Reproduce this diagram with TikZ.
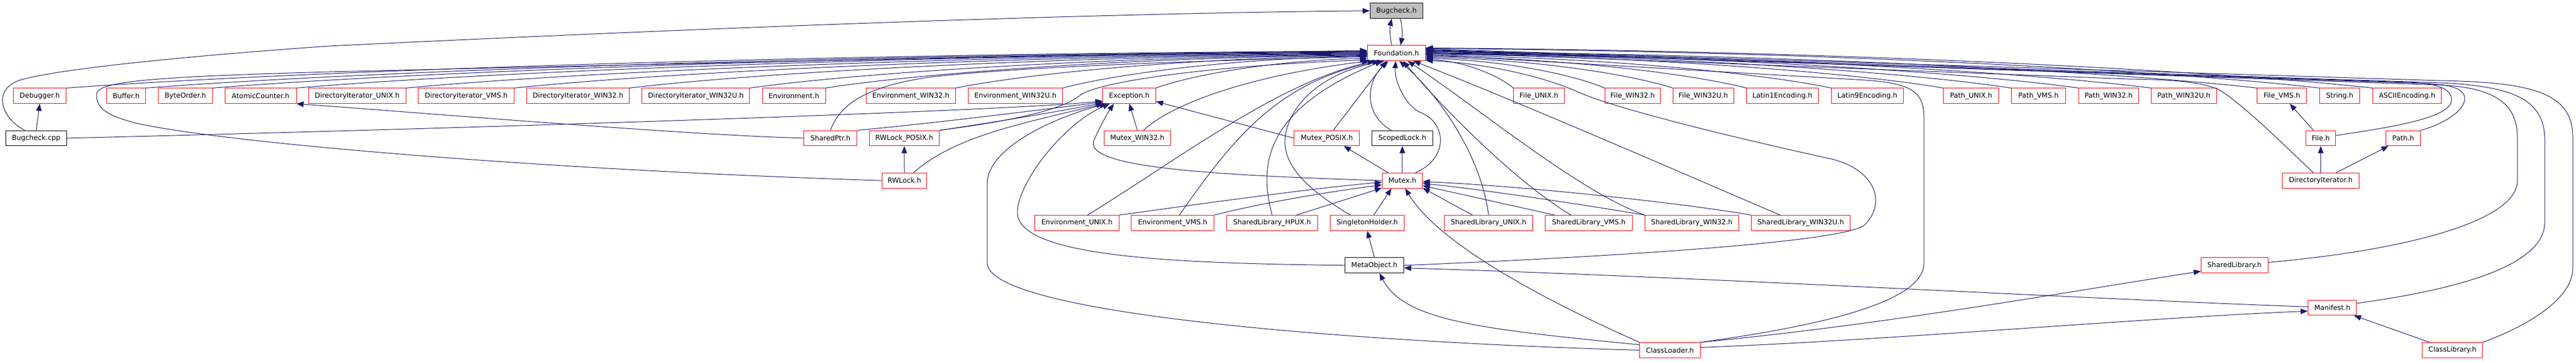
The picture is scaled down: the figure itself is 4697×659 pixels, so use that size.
\documentclass[tikz,border=0pt]{standalone}
\usepackage{fontspec}
\setmainfont{DejaVu Sans}
\usetikzlibrary{arrows.meta}
\definecolor{edgec}{HTML}{191970}
\definecolor{graybg}{HTML}{BFBFBF}
\begin{document}
\begin{tikzpicture}[x=1pt,y=-1pt,
  nd/.style={draw=red, fill=white, line width=1pt, minimum height=27.7pt, inner sep=0pt, text=black, font=\fontsize{12.6pt}{15pt}\selectfont},
  ndk/.style={nd, draw=black},
  ndg/.style={nd, draw=black, fill=graybg},
  edg/.style={draw=edgec, line width=1pt, -{Triangle[length=13pt,width=10pt]}}]
\fill[white] (0,0) rectangle (4697,659);
\useasboundingbox (0,0) rectangle (4697,659);
% rank 0,1
\node[ndg, minimum width=96.4pt] (BH) at (2546.2,19.7) {Bugcheck.h};
\node[nd, minimum width=105.6pt] (F) at (2546.2,96.8) {Foundation.h};
% rank 2
\node[nd, minimum width=96.8pt] (Dbg) at (72.5,174.8) {Debugger.h};
\node[nd, minimum width=71.2pt] (Buf) at (230.0,174.8) {Buffer.h};
\node[nd, minimum width=98.7pt] (BO) at (338.0,174.8) {ByteOrder.h};
\node[nd, minimum width=129.7pt] (AC) at (475.2,174.8) {AtomicCounter.h};
\node[nd, minimum width=177.5pt] (DIU) at (651.4,174.8) {DirectoryIterator\_UNIX.h};
\node[nd, minimum width=174.9pt] (DIV) at (850.1,174.8) {DirectoryIterator\_VMS.h};
\node[nd, minimum width=186.8pt] (DIW) at (1053.9,174.8) {DirectoryIterator\_WIN32.h};
\node[nd, minimum width=196.3pt] (DIWU) at (1268.8,174.8) {DirectoryIterator\_WIN32U.h};
\node[nd, minimum width=114.8pt] (Env) at (1447.6,174.8) {Environment.h};
\node[nd, minimum width=163.0pt] (EnvW) at (1660.8,174.8) {Environment\_WIN32.h};
\node[nd, minimum width=171.8pt] (EnvWU) at (1851.5,174.8) {Environment\_WIN32U.h};
\node[nd, minimum width=96.4pt] (Exc) at (2059.1,174.8) {Exception.h};
\node[nd, minimum width=92.7pt] (FU) at (2806.1,174.8) {File\_UNIX.h};
\node[nd, minimum width=101.4pt] (FW) at (2976.9,174.8) {File\_WIN32.h};
\node[nd, minimum width=110.6pt] (FWU) at (3105.8,174.8) {File\_WIN32U.h};
\node[nd, minimum width=130.9pt] (L1) at (3250.0,174.8) {Latin1Encoding.h};
\node[nd, minimum width=130.8pt] (L9) at (3404.9,174.8) {Latin9Encoding.h};
\node[nd, minimum width=100.6pt] (PU) at (3594.1,174.8) {Path\_UNIX.h};
\node[nd, minimum width=98.7pt] (PV) at (3716.8,174.8) {Path\_VMS.h};
\node[nd, minimum width=109.1pt] (PW) at (3844.8,174.8) {Path\_WIN32.h};
\node[nd, minimum width=118.7pt] (PWU) at (3982.0,174.8) {Path\_WIN32U.h};
\node[nd, minimum width=90.3pt] (FV) at (4160.7,174.8) {File\_VMS.h};
\node[nd, minimum width=72.6pt] (Str) at (4266.2,174.8) {String.h};
\node[nd, minimum width=125.3pt] (ASCII) at (4388.9,174.8) {ASCIIEncoding.h};
% rank 3
\node[ndk, minimum width=111.4pt] (BC) at (66.0,251.9) {Bugcheck.cpp};
\node[nd, minimum width=97.2pt] (SP) at (1514.2,251.9) {SharedPtr.h};
\node[nd, minimum width=127.0pt] (RWP) at (1648.9,251.9) {RWLock\_POSIX.h};
\node[nd, minimum width=120.6pt] (MW) at (2073.8,251.9) {Mutex\_WIN32.h};
\node[nd, minimum width=118.9pt] (MP) at (2419.4,251.9) {Mutex\_POSIX.h};
\node[ndk, minimum width=111.0pt] (SL) at (2556.9,251.9) {ScopedLock.h};
\node[nd, minimum width=54.8pt] (File) at (4231.5,251.9) {File.h};
\node[nd, minimum width=62.8pt] (Path) at (4382.0,251.9) {Path.h};
% rank 4
\node[nd, minimum width=81.9pt] (RW) at (1649.0,329.2) {RWLock.h};
\node[nd, minimum width=73.4pt] (Mtx) at (2556.9,329.2) {Mutex.h};
\node[nd, minimum width=139.2pt] (DI) at (4231.5,329.2) {DirectoryIterator.h};
% rank 5
\node[nd, minimum width=153.4pt] (EU) at (1963.6,406.5) {Environment\_UNIX.h};
\node[nd, minimum width=150.8pt] (EV) at (2138.3,406.5) {Environment\_VMS.h};
\node[nd, minimum width=166.4pt] (SLH) at (2319.5,406.5) {SharedLibrary\_HPUX.h};
\node[nd, minimum width=135.1pt] (SH) at (2492.9,406.5) {SingletonHolder.h};
\node[nd, minimum width=161.5pt] (SLU) at (2714.2,406.5) {SharedLibrary\_UNIX.h};
\node[nd, minimum width=158.8pt] (SLV) at (2896.9,406.5) {SharedLibrary\_VMS.h};
\node[nd, minimum width=171.0pt] (SLW) at (3084.8,406.5) {SharedLibrary\_WIN32.h};
\node[nd, minimum width=180.2pt] (SLWU) at (3283.4,406.5) {SharedLibrary\_WIN32U.h};
% rank 6,7,8
\node[ndk, minimum width=107.2pt] (MO) at (2506.0,483.8) {MetaObject.h};
\node[nd, minimum width=121.7pt] (SLib) at (4074.2,483.8) {SharedLibrary.h};
\node[nd, minimum width=88.6pt] (Man) at (4252.6,560.9) {Manifest.h};
\node[nd, minimum width=110.9pt] (CLo) at (3044.9,638.4) {ClassLoader.h};
\node[nd, minimum width=109.9pt] (CLib) at (4471.6,638.4) {ClassLibrary.h};

% Bugcheck.h <-> Foundation.h
\draw[edg] (F.121) .. controls (2534,65) and (2534,50) .. (BH.239);
\draw[edg] (BH.-63) .. controls (2557,50) and (2557,65) .. (F.62);
% Bugcheck.cpp
\draw[edg] (BC.145) .. controls (0,215) and (-15,160) .. (40,145) .. controls (100,128) and (300,105) .. (600,84) .. controls (1300,50) and (2000,24) .. (BH.west);
\draw[edg] (BC.north) -- (Dbg.south);
\draw[edg] (BC.east) .. controls (700,238) and (1800,205) .. (Exc.191);
% rank 2 left -> Foundation
\draw[edg] (Dbg.north east) .. controls (501,132.5) and (1402,98.5) .. (F.176);
\draw[edg] (Buf.north east) .. controls (622,132.9) and (1469,99.4) .. (F.177);
\draw[edg] (BO.north east) .. controls (724,133.3) and (1524,100.3) .. (F.178);
\draw[edg] (AC.north east) .. controls (852,133.7) and (1595,101.1) .. (F.179);
\draw[edg] (DIU.north east) .. controls (1020,134) and (1687,101.9) .. (F.180);
\draw[edg] (DIV.north east) .. controls (1186.5,134.4) and (1777,102.8) .. (F.181);
\draw[edg] (DIW.north east) .. controls (1362,134.8) and (1874,103.6) .. (F.182);
\draw[edg] (DIWU.north east) .. controls (1547,135.2) and (1975,104.5) .. (F.183);
\draw[edg] (Env.north east) .. controls (1663,135.6) and (2039,105.3) .. (F.184);
\draw[edg] (EnvW.north east) .. controls (1862,136) and (2148,106.2) .. (F.185);
\draw[edg] (EnvWU.north east) .. controls (2026,136.4) and (2237,107.05) .. (F.186);
\draw[edg] (Exc.north east) .. controls (2169,138) and (2315,110.5) .. (F.190);
% rank 2 right -> Foundation
\draw[edg] (FU.north west) .. controls (2734,138.7) and (2673,112.2) .. (F.-12);
\draw[edg] (FW.north west) .. controls (2873.8,137.9) and (2749.5,110.5) .. (F.-10);
\draw[edg] (FWU.north west) .. controls (2978.3,137.1) and (2806.7,108.7) .. (F.-8);
\draw[edg] (L1.north west) .. controls (3090.8,136.4) and (2868.3,107.05) .. (F.-6);
\draw[edg] (L9.north west) .. controls (3221,135.6) and (2939.6,105.3) .. (F.-4);
\draw[edg] (PU.north west) .. controls (3392.6,134.8) and (3033.6,103.6) .. (F.-2);
\draw[edg] (PV.north west) .. controls (3496.4,134.4) and (3090.5,102.8) .. (F.-1);
\draw[edg] (PW.north west) .. controls (3599.6,134) and (3147,101.9) .. (F.0);
\draw[edg] (PWU.north west) .. controls (3710.8,133.7) and (3207.9,101.1) .. (F.1);
\draw[edg] (FV.north west) .. controls (3872.9,132.9) and (3296.6,99.4) .. (F.3);
\draw[edg] (Str.north west) .. controls (3968.9,130.5) and (3349.2,94.2) .. (F.9);
\draw[edg] (ASCII.north west) .. controls (4049.8,130.1) and (3393.5,93.4) .. (F.10);
% SharedPtr, RWLock
\draw[edg] (SP.west) .. controls (1250,246) and (800,208) .. (AC.south east);
\draw[edg] (SP.north) .. controls (1530,195) and (1570,158) .. (1700,140) .. controls (1900,118) and (2300,108) .. (F.187);
\draw[edg] (SP.north east) .. controls (1700,225) and (1900,200) .. (Exc.193);
\draw[edg] (RWP.north east) .. controls (1800,225) and (1920,205) .. (Exc.195);
\draw[edg] (RWP.north east) .. controls (1850,220) and (1935,200) .. (1968,175) .. controls (1995,150) and (2200,120) .. (F.193);
\draw[edg] (RW.north) -- (RWP.south);
\draw[edg] (RW.41) .. controls (1740,250) and (1850,228) .. (Exc.197);
\draw[edg] (RW.west) .. controls (1000,310) and (420,262) .. (250,225) .. controls (190,210) and (176,195) .. (176,172) .. controls (176,148) and (280,140) .. (600,131) .. controls (1400,112) and (2100,98) .. (F.175);
% Mutex family
\draw[edg] (MW.north) -- (Exc.south);
\draw[edg] (MW.52) .. controls (2130,195) and (2260,140) .. (F.196);
\draw[edg] (MP.west) -- (Exc.-12);
\draw[edg] (MP.51) -- (F.218);
\draw[edg] (SL.144) .. controls (2487,210) and (2490,150) .. (F.224);
\draw[edg] (Mtx.north) -- (SL.south);
\draw[edg] (Mtx.151) -- (MP.-25);
\draw[edg] (Mtx.31) .. controls (2640,290) and (2640,225) .. (2590,205) .. controls (2565,195) and (2542,150) .. (F.265);
\draw[edg] (Mtx.west) .. controls (2150,318) and (1975,300) .. (1995,255) .. controls (2005,232) and (2020,205) .. (Exc.207);
% rank 5 left
\draw[edg] (EU.37) .. controls (2150,290) and (2330,150) .. (F.200);
\draw[edg] (EU.north east) .. controls (2200,370) and (2420,340) .. (Mtx.185);
\draw[edg] (EV.50) .. controls (2250,250) and (2330,150) .. (F.205);
\draw[edg] (EV.north east) .. controls (2300,370) and (2420,350) .. (Mtx.192);
\draw[edg] (SLH.north) .. controls (2295,300) and (2305,200) .. (F.209);
\draw[edg] (SLH.18) -- (Mtx.200);
\draw[edg] (SH.50) -- (Mtx.216);
\draw[edg] (SH.155) .. controls (2400,355) and (2340,310) .. (2343,255) .. controls (2346,200) and (2400,135) .. (F.213);
% MetaObject
\draw[edg] (MO.north) -- (SH.south);
\draw[edg] (MO.west) .. controls (2150,480) and (1850,470) .. (1855,385) .. controls (1858,330) and (1940,225) .. (Exc.202);
\draw[edg] (MO.east) .. controls (2850,472) and (3360,445) .. (3400,410) .. controls (3440,370) and (3420,310) .. (3340,290) .. controls (3180,255) and (2950,200) .. (2878,168) .. controls (2806,136) and (2700,115) .. (F.-14);
% rank 5 right
\draw[edg] (SLU.154) -- (Mtx.-20);
\draw[edg] (SLU.north) .. controls (2700,280) and (2620,170) .. (F.-70);
\draw[edg] (SLV.167) -- (Mtx.-14);
\draw[edg] (SLV.156) .. controls (2760,330) and (2620,185) .. (F.-50);
\draw[edg] (SLW.north west) .. controls (2900,375) and (2700,345) .. (Mtx.-8);
\draw[edg] (SLW.north west) .. controls (2880,350) and (2700,200) .. (F.-35);
\draw[edg] (SLWU.north west) .. controls (3100,375) and (2800,340) .. (Mtx.-3);
\draw[edg] (SLWU.159) .. controls (3100,330) and (2780,190) .. (F.-25);
% ClassLoader
\draw[edg] (CLo.north west) .. controls (2800,540) and (2620,440) .. (Mtx.-70);
\draw[edg] (CLo.170) .. controls (2700,600) and (2560,585) .. (MO.-57);
\draw[edg] (CLo.west) .. controls (2500,625) and (1805,575) .. (1800,480) -- (1800,335) .. controls (1800,270) and (1920,215) .. (Exc.199);
\draw[edg] (CLo.north east) .. controls (3350,590) and (3508,545) .. (3508,480) -- (3508,215) .. controls (3508,170) and (3490,152) .. (3400,146) -- (F.-3);
\draw[edg] (CLo.north east) .. controls (3450,590) and (3750,535) .. (SLib.190);
\draw[edg] (CLo.5) .. controls (3450,620) and (3900,580) .. (Man.188);
% Manifest, ClassLibrary, SharedLibrary
\draw[edg] (Man.178) .. controls (3800,545) and (3100,505) .. (MO.-5);
\draw[edg] (Man.10) .. controls (4500,525) and (4640,480) .. (4640,405) -- (4640,255) .. controls (4640,180) and (4580,157) .. (4450,151) -- (F.7);
\draw[edg] (CLib.north east) .. controls (4620,590) and (4691,540) .. (4691,490) -- (4691,250) .. controls (4691,170) and (4620,150) .. (4450,147) -- (F.8);
\draw[edg] (CLib.161) -- (Man.-20);
\draw[edg] (SLib.5) .. controls (4400,455) and (4590,400) .. (4590,330) -- (4590,250) .. controls (4590,190) and (4550,160) .. (4450,155) -- (F.6);
% File, Path, DirectoryIterator
\draw[edg] (File.10) .. controls (4360,232) and (4470,215) .. (4470,182) .. controls (4470,160) and (4440,152) .. (4390,150) -- (F.4);
\draw[edg] (Path.north east) .. controls (4460,225) and (4494,200) .. (4494,180) .. controls (4494,162) and (4470,154) .. (4420,152) -- (F.5);
\draw[edg] (DI.133) .. controls (4165,265) and (4090,190) .. (4045,163) .. controls (4010,148) and (3950,145) .. (3880,144) -- (F.2);
\draw[edg] (DI.north) -- (File.south);
\draw[edg] (DI.27) -- (Path.208);
\draw[edg] (File.133) -- (FV.-45);
\end{tikzpicture}
\end{document}
